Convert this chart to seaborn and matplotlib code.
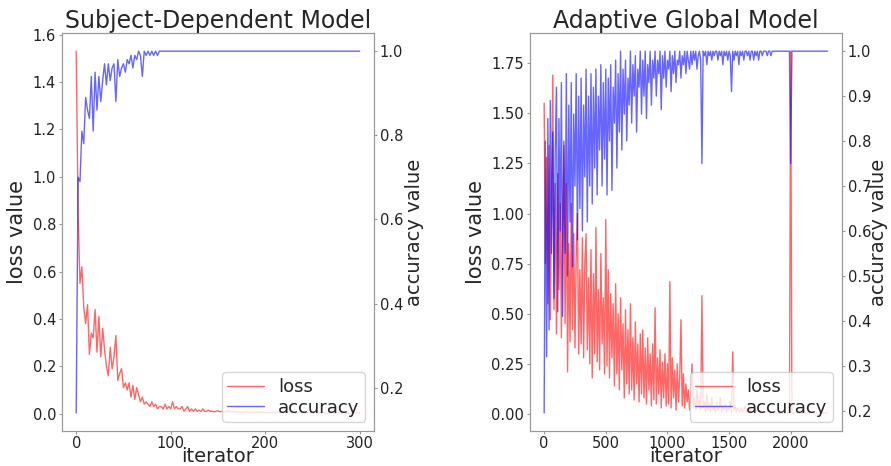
import numpy as np
import pandas as pd
import matplotlib
matplotlib.use("Agg")
import matplotlib.pyplot as plt
from matplotlib.ticker import MultipleLocator
import seaborn as sns

# ---- data ----
# left panel: subject-dependent model, logged every 2 iterations (0..300)
sd_iter = np.arange(0, 301, 2)
sd_loss = [
    1.53, 0.85, 0.55, 0.62, 0.45, 0.38, 0.46, 0.25, 0.34, 0.32,
    0.44, 0.26, 0.41, 0.24, 0.36, 0.27, 0.20, 0.16, 0.28, 0.19,
    0.24, 0.33, 0.14, 0.17, 0.19, 0.11, 0.13, 0.10, 0.13, 0.07,
    0.12, 0.06, 0.11, 0.08, 0.05, 0.07, 0.04, 0.05, 0.04, 0.03,
    0.05, 0.03, 0.04, 0.02, 0.03, 0.03, 0.02, 0.04, 0.02, 0.03,
    0.02, 0.05, 0.02, 0.03, 0.02, 0.02, 0.03, 0.01, 0.02, 0.03,
    0.01, 0.02, 0.01, 0.02, 0.01, 0.015, 0.01, 0.02, 0.01, 0.01,
    0.015, 0.01, 0.01, 0.008, 0.01, 0.012, 0.008, 0.01, 0.006, 0.01,
    0.008, 0.012, 0.006, 0.008, 0.01, 0.006, 0.008, 0.005, 0.008, 0.006,
    0.01, 0.005, 0.007, 0.005, 0.006, 0.008, 0.005, 0.006, 0.004, 0.007,
    0.005, 0.006, 0.004, 0.005, 0.007, 0.004, 0.005, 0.006, 0.004, 0.005,
    0.004, 0.005, 0.004, 0.006, 0.004, 0.005, 0.003, 0.005, 0.004, 0.004,
    0.005, 0.003, 0.004, 0.004, 0.003, 0.005, 0.003, 0.004, 0.003, 0.004,
    0.003, 0.004, 0.003, 0.003, 0.004, 0.003, 0.003, 0.004, 0.003, 0.003,
    0.003, 0.003, 0.004, 0.003, 0.003, 0.003, 0.003, 0.003, 0.003, 0.003,
    0.003,
]
sd_acc = [
    0.14, 0.70, 0.69, 0.81, 0.78, 0.89, 0.86, 0.84, 0.94, 0.81,
    0.95, 0.86, 0.94, 0.88, 0.93, 0.97, 0.92, 0.97, 0.93, 0.96,
    0.97, 0.88, 0.98, 0.94, 0.96, 0.97, 0.95, 0.98, 0.97, 0.99,
    0.96, 0.99, 0.98, 1.00, 0.99, 0.94, 1.00, 0.99, 1.00, 0.99,
    1.00, 0.99, 1.00, 0.99, 1.00,
] + [1.0] * 106

# right panel: adaptive global model, logged every 10 iterations (0..2300)
ag_iter = np.arange(0, 2301, 10)
ag_loss = [
    1.55, 0.75, 1.28, 0.55, 1.34, 0.47, 1.10, 1.69, 0.52, 1.15,
    0.40, 1.20, 0.62, 1.05, 0.38, 0.95, 1.34, 0.45, 1.15, 0.21,
    0.85, 0.36, 1.05, 0.42, 0.90, 0.33, 0.78, 1.00, 0.30, 0.72,
    0.35, 0.88, 0.28, 0.75, 0.90, 0.32, 0.68, 0.25, 0.82, 0.18,
    0.70, 0.30, 0.93, 0.26, 0.62, 0.22, 0.80, 0.35, 0.58, 0.20,
    0.97, 0.24, 0.72, 0.18, 0.60, 0.28, 0.55, 0.14, 0.65, 0.20,
    0.50, 0.12, 0.58, 0.22, 0.45, 0.08, 0.52, 0.15, 0.42, 0.10,
    0.55, 0.12, 0.38, 0.07, 0.46, 0.15, 0.35, 0.06, 0.40, 0.10,
    0.42, 0.08, 0.33, 0.05, 0.38, 0.12, 0.30, 0.04, 0.35, 0.07,
    0.53, 0.05, 0.28, 0.10, 0.32, 0.03, 0.26, 0.08, 0.30, 0.04,
    0.25, 0.05, 0.66, 0.03, 0.28, 0.08, 0.22, 0.02, 0.25, 0.06,
    0.18, 0.47, 0.04, 0.20, 0.03, 0.15, 0.06, 0.12, 0.02, 0.10,
    0.25, 0.03, 0.08, 0.02, 0.12, 0.04, 0.07, 0.02, 0.59, 0.03,
    0.06, 0.01, 0.10, 0.02, 0.05, 0.01, 0.08, 0.02, 0.04, 0.01,
    0.06, 0.02, 0.03, 0.08, 0.01, 0.04, 0.02, 0.05, 0.01, 0.03,
    0.02, 0.06, 0.01, 0.31, 0.02, 0.04, 0.01, 0.03, 0.02, 0.01,
    0.03, 0.01, 0.02, 0.04, 0.01, 0.02, 0.01, 0.03, 0.01, 0.02,
    0.01, 0.03, 0.01, 0.02, 0.01, 0.01, 0.02, 0.01, 0.01, 0.01,
    0.01, 0.01, 0.02, 0.01, 0.005, 0.01, 0.005, 0.01, 0.005, 0.005,
    0.005, 0.005, 0.005, 0.005, 0.005, 0.005, 0.005, 0.005, 0.005, 0.005,
    1.81,
] + [0.005] * 30
ag_acc = [
    0.195, 0.80, 0.32, 0.85, 0.38, 0.89, 0.55, 0.82, 0.45, 0.78,
    0.92, 0.42, 0.85, 0.60, 0.93, 0.41, 0.80, 0.55, 0.95, 0.50,
    0.88, 0.62, 0.93, 0.52, 0.86, 0.70, 0.95, 0.58, 0.90, 0.65,
    0.94, 0.60, 0.88, 0.72, 0.96, 0.62, 0.90, 0.70, 0.95, 0.66,
    0.92, 0.74, 0.96, 0.68, 0.90, 0.78, 0.97, 0.70, 0.93, 0.76,
    0.96, 0.68, 0.94, 0.80, 0.97, 0.69, 0.92, 0.84, 0.98, 0.74,
    0.95, 0.82, 1.00, 0.78, 0.96, 0.86, 0.98, 0.80, 0.94, 0.88,
    1.00, 0.84, 0.97, 0.90, 0.99, 0.82, 0.96, 0.92, 1.00, 0.86,
    0.98, 0.90, 1.00, 0.85, 0.97, 0.93, 1.00, 0.88, 0.98, 0.94,
    1.00, 0.90, 0.98, 0.95, 1.00, 0.87, 0.99, 0.94, 1.00, 0.92,
    0.98, 0.96, 1.00, 0.91, 0.99, 0.95, 1.00, 0.93, 0.98, 0.97,
    1.00, 0.94, 0.99, 0.97, 1.00, 0.95, 1.00, 0.98, 0.96, 1.00,
    0.97, 1.00, 0.98, 1.00, 0.96, 0.99, 1.00, 0.98, 0.75, 1.00,
    0.99, 1.00, 0.97, 1.00, 0.99, 1.00, 0.98, 1.00, 0.99, 1.00,
    1.00, 0.98, 1.00, 0.99, 1.00, 0.97, 1.00, 0.99, 1.00, 0.98,
    1.00, 0.99, 0.91, 1.00, 0.98, 1.00, 0.99, 1.00, 0.97, 1.00,
    0.99, 1.00, 0.98, 1.00, 1.00, 0.99, 1.00, 0.98, 1.00, 1.00,
    0.98, 1.00, 0.99, 1.00, 0.98, 1.00, 1.00, 0.99, 1.00, 1.00,
    1.00, 0.99, 1.00, 1.00, 0.99, 1.00, 1.00, 1.00, 1.00, 1.00,
    1.00, 1.00, 1.00, 1.00, 1.00, 1.00, 1.00, 1.00, 1.00, 1.00,
    0.75,
] + [1.0] * 30

titles = ["Subject-Dependent Model", "Adaptive Global Model"]

sd_df = pd.DataFrame({"iterator": sd_iter, "loss": sd_loss, "accuracy": sd_acc})
ag_df = pd.DataFrame({"iterator": ag_iter, "loss": ag_loss, "accuracy": ag_acc})

sns.set_style("white")
plt.rcParams["font.family"] = ["DejaVu Sans"]
spine_col = "#999999"

fig = plt.figure(figsize=(8.91, 4.66), dpi=100)
axes = [fig.add_axes([0.0696, 0.075, 0.350, 0.854]),
        fig.add_axes([0.5948, 0.075, 0.350, 0.854])]

# (data, x tick step, loss tick step, accuracy tick step, right label x)
panels = [(sd_df, 100, 0.2, 0.2, 1.10), (ag_df, 500, 0.25, 0.1, 1.088)]
for ax, title, (data, xstep, lstep, astep, rlab) in zip(axes, titles, panels):
    ax2 = ax.twinx()
    sns.lineplot(data=data, x="iterator", y="loss", ax=ax, color="red",
                 alpha=0.6, linewidth=1, estimator=None, label="loss", legend=False)
    sns.lineplot(data=data, x="iterator", y="accuracy", ax=ax2, color="blue",
                 alpha=0.6, linewidth=1, estimator=None, label="accuracy", legend=False)
    ax.set_title(title, fontsize=17, pad=2)
    ax.set_xlabel("iterator", fontsize=14, va="baseline")
    ax.set_ylabel("loss value", fontsize=15)
    ax2.set_ylabel("accuracy value", fontsize=14)
    ax.xaxis.set_label_coords(0.5, -0.0766)
    ax2.yaxis.set_label_coords(rlab, 0.5)
    ax.xaxis.set_major_locator(MultipleLocator(xstep))
    ax.yaxis.set_major_locator(MultipleLocator(lstep))
    ax2.yaxis.set_major_locator(MultipleLocator(astep))
    for a in (ax, ax2):
        for s in a.spines.values():
            s.set_color(spine_col)
        a.tick_params(labelsize=10.5, colors="#222222", length=2.5, width=0.8, pad=1.8)
        a.tick_params(color=spine_col)
    ax.tick_params(axis="x", bottom=True, pad=1.2)
    ax.tick_params(axis="y", left=True)
    ax2.tick_params(axis="y", right=True)
    h1, l1 = ax.get_legend_handles_labels()
    h2, l2 = ax2.get_legend_handles_labels()
    ax2.legend(h1 + h2, l1 + l2, loc="lower right", fontsize=13,
               labelspacing=0.15, borderpad=0.3)

fig.savefig("out.png", dpi=100)
